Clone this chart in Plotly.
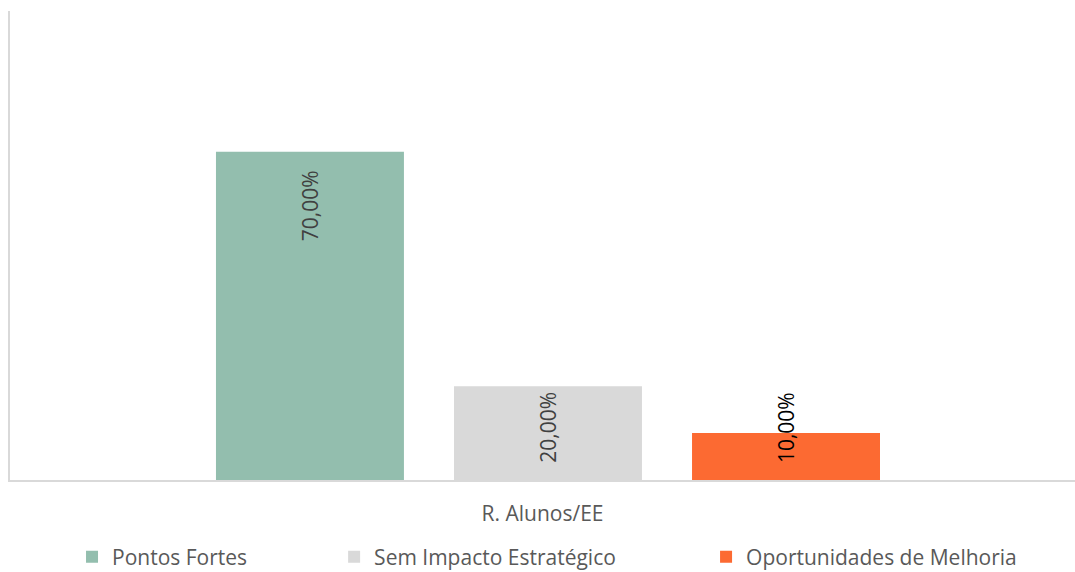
import plotly.graph_objects as go

# Survey result for the "R. Alunos/EE" group
category = ["R. Alunos/EE"]
series_names = ["Pontos Fortes", "Sem Impacto Estratégico", "Oportunidades de Melhoria"]
series_values = [0.70, 0.20, 0.10]
value_labels = ["70,00%", "20,00%", "10,00%"]

# Styling
colors = ["#93BEAE", "#D9D9D9", "#FC6A32"]
label_colors = ["#404040", "#404040", "#000000"]
label_anchor = ["top", "top", "middle"]
label_shift = [-16, -3, 5]
bar_width = 0.1765                      # in category units
bar_offsets = [-0.3066, -0.0831, 0.1404]  # left edge relative to category centre
legend_x = [0.0670, 0.3108, 0.6568]     # container fraction

FONT = "Open Sans, Noto Sans, sans-serif"
FS = 21
PLOT_W = 1075 - 10

fig = go.Figure()
legend_ids = ["legend", "legend2", "legend3"]
for i, name in enumerate(series_names):
    fig.add_trace(go.Bar(
        x=category,
        y=[series_values[i]],
        name=name,
        width=bar_width,
        offset=bar_offsets[i],
        marker=dict(color=colors[i], line=dict(width=0)),
        legend=legend_ids[i],
        showlegend=True,
    ))

fig.update_layout(
    barmode="overlay",
    showlegend=True,
    width=1075,
    height=572,
    margin=dict(l=10, r=0, t=11, b=92, autoexpand=False),
    plot_bgcolor="white",
    paper_bgcolor="white",
    font=dict(family=FONT, size=FS, color="#595959"),
    xaxis=dict(
        showline=True, linecolor="#D9D9D9", linewidth=2,
        showticklabels=False, ticks="", automargin=False,
        title=dict(text=category[0], font=dict(size=FS, color="#595959"), standoff=25),
    ),
    yaxis=dict(
        range=[0, 1], showline=True, linecolor="#D9D9D9", linewidth=2,
        showgrid=False, showticklabels=False, ticks="", zeroline=False,
        automargin=False,
    ),
)

for i, lid in enumerate(legend_ids):
    fig.update_layout({lid: dict(
        orientation="h", x=legend_x[i], xref="container", xanchor="left",
        y=1 - 557 / 572, yanchor="middle", yref="container",
        font=dict(family=FONT, size=FS, color="#595959"),
        bgcolor="rgba(0,0,0,0)", itemwidth=30,
    )})

# Rotated value labels placed from the same bar values
for i in range(len(series_values)):
    centre_px = (bar_offsets[i] + bar_width / 2) * PLOT_W
    fig.add_annotation(
        x=category[0], y=series_values[i], xref="x", yref="y",
        text=value_labels[i], textangle=-90, showarrow=False,
        yanchor=label_anchor[i], yshift=label_shift[i],
        xshift=centre_px,
        font=dict(family=FONT, size=FS, color=label_colors[i]),
    )

fig.write_html("out.html")
